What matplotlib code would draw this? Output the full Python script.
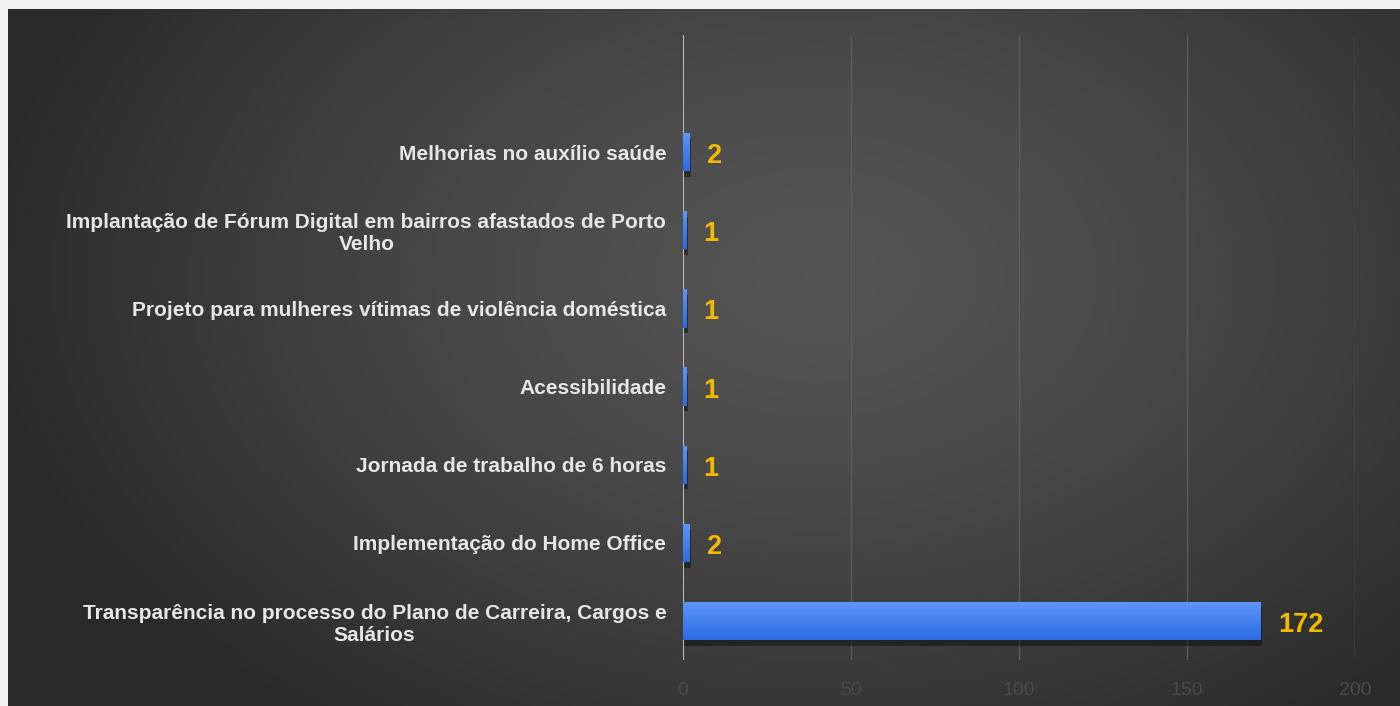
import numpy as np
import matplotlib
matplotlib.use("Agg")
import matplotlib.pyplot as plt
import matplotlib.patheffects as pe

categories = [
    "Transparência no processo do Plano de Carreira, Cargos e\nSalários",
    "Implementação do Home Office",
    "Jornada de trabalho de 6 horas",
    "Acessibilidade",
    "Projeto para mulheres vítimas de violência doméstica",
    "Implantação de Fórum Digital em bairros afastados de Porto\nVelho",
    "Melhorias no auxílio saúde",
]
values = [172, 2, 1, 1, 1, 1, 2]
xticks = [0, 50, 100, 150, 200]

plt.rcParams['font.family'] = ['Liberation Sans', 'DejaVu Sans']

fig = plt.figure(figsize=(14, 7.06), dpi=100)
fig.patch.set_facecolor("#f2f2f2")

# background panel with radial gradient
bg = fig.add_axes([8/1400, 0, 1 - 8/1400, 1 - 9/706])
bg.set_axis_off()
h, w = 300, 600
yy, xx = np.mgrid[0:h, 0:w]
cx, cy = 0.58 * w, 0.38 * h
r = np.sqrt(((xx - cx) / (0.60 * w)) ** 2 + ((yy - cy) / (0.80 * h)) ** 2)
r = np.clip(r, 0, 1)
val = 0.33 - 0.165 * r ** 1.4
img = np.dstack([val, val, val])
bg.imshow(img, aspect='auto', extent=[0, 1, 0, 1], origin='upper', interpolation='bilinear')
bg.set_xlim(0, 1)
bg.set_ylim(0, 1)

ax = fig.add_axes([683/1400, 1 - 660/706, (1355 - 683)/1400, (660 - 35)/706])
ax.set_facecolor("none")
y = np.arange(len(categories))
bars = ax.barh(y, values, height=0.49, color="#3f83f0", zorder=3,
               path_effects=[pe.SimplePatchShadow(offset=(1, -4), shadow_rgbFace="#111111", alpha=0.55),
                             pe.Normal()])

# vertical gradient inside each bar (lighter top, darker bottom)
grad = np.linspace(0, 1, 64).reshape(-1, 1)
top = np.array([0.37, 0.59, 0.97])
bot = np.array([0.17, 0.42, 0.89])
gimg = top[None, None, :] * (1 - grad[:, :, None]) + bot[None, None, :] * grad[:, :, None]
for b in bars:
    x0, y0 = b.get_x(), b.get_y()
    im = ax.imshow(gimg, aspect='auto', extent=[x0, x0 + b.get_width(), y0, y0 + b.get_height()],
                   origin='upper', zorder=3.5, interpolation='bilinear')
    im.set_clip_path(b)

ax.set_xlim(0, 200)
ax.set_ylim(-0.5, 7.5)

for yi, v in zip(y, values):
    ax.annotate(str(v), xy=(v, yi), xytext=(17, -4), textcoords='offset pixels',
                va='center', ha='left', color="#f2b900",
                fontsize=19.5, fontweight='bold', zorder=5)

ax.set_xticks(xticks)
ax.set_xticklabels([str(t) for t in xticks], color="#4a4a4a", fontsize=14)
ax.tick_params(axis='x', length=0, pad=16)
ax.set_yticks(y)
ax.set_yticklabels(categories, color="#e6e6e6", fontsize=15, fontweight='bold',
                   multialignment='center', linespacing=1.2)
ax.tick_params(axis='y', length=0, pad=12)
ax.grid(axis='x', color="#5c5c5c", linewidth=1, zorder=0)
ax.axvline(0, color="#d0d0d0", linewidth=1.2, zorder=2)
for s in ax.spines.values():
    s.set_visible(False)

fig.savefig("out.png", dpi=100, facecolor=fig.get_facecolor())
